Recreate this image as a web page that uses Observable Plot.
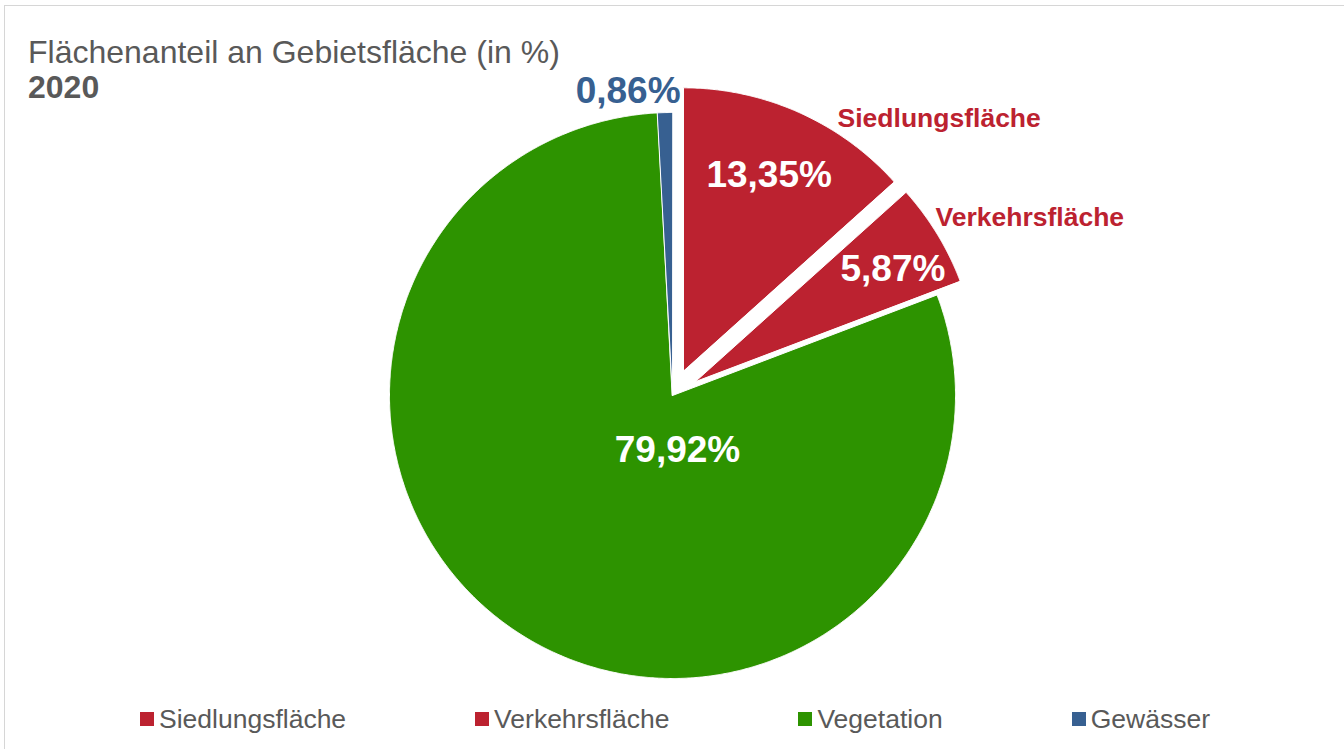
<!DOCTYPE html>
<html><head><meta charset="utf-8">
<script src="https://cdn.jsdelivr.net/npm/d3@7"></script>
<script src="https://cdn.jsdelivr.net/npm/@observablehq/plot@0.6"></script>
<style>
html,body{margin:0;padding:0;width:1344px;height:749px;overflow:hidden;background:#fff;font-family:"Liberation Sans",Arial,sans-serif;}
#frame{position:absolute;left:4px;top:5px;width:1400px;height:800px;border:1px solid #d6d6d6;box-sizing:border-box;}
#chart{position:absolute;left:0;top:0;}
#title{position:absolute;left:28px;top:34.7px;font-size:32px;line-height:35px;color:#595959;white-space:nowrap;}
#title b{font-weight:bold;}
#legend{position:absolute;left:140px;top:706px;display:flex;align-items:center;font-size:26.5px;line-height:26px;color:#595959;white-space:nowrap;}
.item{display:flex;align-items:center;margin-right:129px;}
.sw{width:14px;height:14px;margin-right:5px;flex:none;}
</style></head><body>
<div id="frame"></div>
<div id="chart"></div>
<div id="title">Flächenanteil an Gebietsfläche (in %)<br><b>2020</b></div>
<div id="legend"></div>
<script>
// ---- data ----
const categories = ["Siedlungsfläche", "Verkehrsfläche", "Vegetation", "Gewässer"];
const values = [13.35, 5.87, 79.92, 0.86];
const valueLabels = ["13,35%", "5,87%", "79,92%", "0,86%"];
const nameLabels = ["Siedlungsfläche", "Verkehrsfläche", null, null];
const colors = ["#BC2230", "#BC2230", "#2D9300", "#376091"];

// ---- layout ----
const W = 1344, H = 749;
const cx = 672, cy = 395, R = 283;
const explode = [27, 27, 0, 0];
// label placement: polar (radius factor, absolute angle in degrees from north, clockwise)
const pctPolar = [[0.756, 23.6], [0.803, 60.3], [0.195, 174.8], [1.087, 351.7]];
const pctFill = ["#ffffff", "#ffffff", "#ffffff", "#376091"];
const namePolar = [[1.270, 45.35], [1.316, 63.83], null, null];

const total = d3.sum(values);
let acc = 0;
const slices = values.map((v, i) => {
  const a0 = acc / total * 2 * Math.PI;
  acc += v;
  const a1 = acc / total * 2 * Math.PI;
  const mid = (a0 + a1) / 2;
  const ox = explode[i] * Math.sin(mid), oy = -explode[i] * Math.cos(mid);
  return {i, cat: categories[i], a0, a1, mid, ccx: cx + ox, ccy: cy + oy};
});

function polygon(s) {
  const pts = [{x: s.ccx, y: s.ccy}];
  const n = Math.max(2, Math.ceil((s.a1 - s.a0) / 0.004));
  for (let k = 0; k <= n; k++) {
    const a = s.a0 + (s.a1 - s.a0) * k / n;
    pts.push({x: s.ccx + R * Math.sin(a), y: s.ccy - R * Math.cos(a)});
  }
  return pts;
}

function polar(s, p) {
  const a = p[1] * Math.PI / 180;
  return {x: s.ccx + p[0] * R * Math.sin(a), y: s.ccy - p[0] * R * Math.cos(a)};
}

const pctData = slices.map(s => ({...polar(s, pctPolar[s.i]), text: valueLabels[s.i], fill: pctFill[s.i]}));
const nameData = slices.filter(s => nameLabels[s.i]).map(s => ({...polar(s, namePolar[s.i]), text: nameLabels[s.i], fill: colors[s.i]}));

const marks = slices.map(s => Plot.line(polygon(s), {
  x: "x", y: "y", fill: colors[s.i], stroke: "#ffffff", strokeWidth: 1,
  curve: "linear-closed", strokeLinejoin: "round"
}));

const font = "'Liberation Sans', Arial, sans-serif";
marks.push(Plot.text(pctData, {x: "x", y: "y", text: "text", fill: "fill", fontSize: 37, fontWeight: "bold", fontFamily: font}));
marks.push(Plot.text(nameData, {x: "x", y: "y", text: "text", fill: "fill", fontSize: 26.5, fontWeight: "bold", fontFamily: font}));

const chart = Plot.plot({
  width: W, height: H, margin: 0,
  x: {domain: [0, W], range: [0, W], axis: null},
  y: {domain: [0, H], range: [0, H], axis: null},
  style: {background: "transparent", overflow: "visible"},
  marks
});
document.getElementById("chart").appendChild(chart);

// legend
const legend = document.getElementById("legend");
categories.forEach((c, i) => {
  const item = document.createElement("div");
  item.className = "item";
  const sw = document.createElement("span");
  sw.className = "sw";
  sw.style.background = colors[i];
  const t = document.createElement("span");
  t.textContent = c;
  item.appendChild(sw); item.appendChild(t);
  legend.appendChild(item);
});
</script>
</body></html>
